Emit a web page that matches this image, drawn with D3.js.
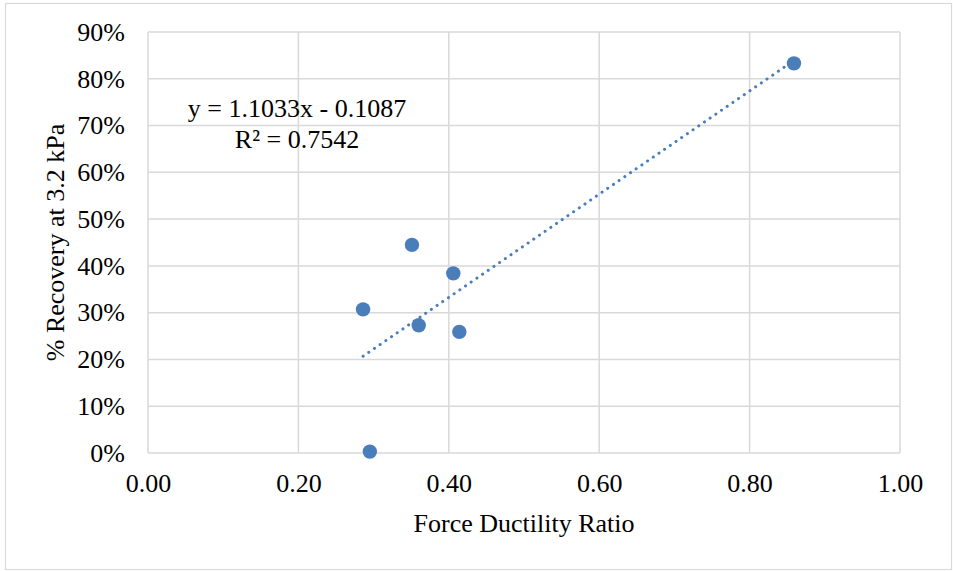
<!DOCTYPE html>
<html><head><meta charset="utf-8">
<script src="https://cdn.jsdelivr.net/npm/d3@7"></script>
<style>body{margin:0;background:#fff}text{font-family:"Liberation Serif","Times New Roman",serif;fill:#000}</style>
</head><body>
<svg id="c" width="953" height="571"></svg>
<script>
const xValues = [0.859, 0.351, 0.406, 0.286, 0.360, 0.414, 0.295];
const yValues = [0.833, 0.445, 0.384, 0.307, 0.273, 0.259, 0.003];
const xTicks = [0, 0.2, 0.4, 0.6, 0.8, 1.0];
const yTicks = [0, 0.1, 0.2, 0.3, 0.4, 0.5, 0.6, 0.7, 0.8, 0.9];
const trend = {slope: 1.1033, intercept: -0.1087};
const eqLines = ["y = 1.1033x - 0.1087", "R² = 0.7542"];
const xTitle = "Force Ductility Ratio";
const yTitle = "% Recovery at 3.2 kPa";

const svg = d3.select("#c");
const m = {l:148, r:900, t:32, b:453};
const FS = 26;
svg.append("rect").attr("x",5.5).attr("y",3.5).attr("width",946).attr("height",566)
  .attr("fill","#fff").attr("stroke","#d9d9d9").attr("stroke-width",1.2);

const x = d3.scaleLinear().domain([0,1]).range([m.l,m.r]);
const y = d3.scaleLinear().domain([0,0.9]).range([m.b,m.t]);

const grid = svg.append("g").attr("stroke","#d9d9d9").attr("stroke-width",1.5);
grid.selectAll(".gy").data(yTicks).join("line")
  .attr("x1",m.l).attr("x2",m.r).attr("y1",d=>y(d)).attr("y2",d=>y(d));
grid.selectAll(".gx").data(xTicks).join("line")
  .attr("y1",m.t).attr("y2",m.b).attr("x1",d=>x(d)).attr("x2",d=>x(d));

const xAxis = d3.axisBottom(x).tickValues(xTicks).tickFormat(d3.format(".2f")).tickSize(0).tickPadding(21);
const gx = svg.append("g").attr("transform",`translate(0,${m.b})`).call(xAxis);
gx.select(".domain").remove();
gx.selectAll("text").attr("font-size",FS).attr("font-family","Liberation Serif").attr("fill","#000");

const yAxis = d3.axisLeft(y).tickValues(yTicks).tickFormat(d3.format(".0%")).tickSize(0).tickPadding(23);
const gy = svg.append("g").attr("transform",`translate(${m.l},0)`).call(yAxis);
gy.select(".domain").remove();
gy.selectAll("text").attr("font-size",FS).attr("font-family","Liberation Serif").attr("fill","#000");

// trendline
const xr = d3.extent(xValues);
svg.append("line")
  .attr("x1",x(xr[0])).attr("y1",y(trend.slope*xr[0]+trend.intercept))
  .attr("x2",x(xr[1])).attr("y2",y(trend.slope*xr[1]+trend.intercept))
  .attr("stroke","#4a7ebb").attr("stroke-width",3).attr("stroke-linecap","round")
  .attr("stroke-dasharray","0.1,6.8");

svg.append("g").selectAll("circle").data(xValues).join("circle")
  .attr("cx",d=>x(d)).attr("cy",(d,i)=>y(yValues[i])).attr("r",7.2).attr("fill","#4a7ebb");

svg.append("g").selectAll("text").data(eqLines).join("text")
  .attr("x",297).attr("y",(d,i)=>117+i*31).attr("text-anchor","middle").attr("font-size",FS).text(d=>d);

svg.append("text").attr("x",(m.l+m.r)/2).attr("y",532).attr("text-anchor","middle").attr("font-size",FS).text(xTitle);
svg.append("text").attr("transform",`translate(64,${(m.t+m.b)/2}) rotate(-90)`).attr("text-anchor","middle").attr("font-size",FS).text(yTitle);
</script>
</body></html>
